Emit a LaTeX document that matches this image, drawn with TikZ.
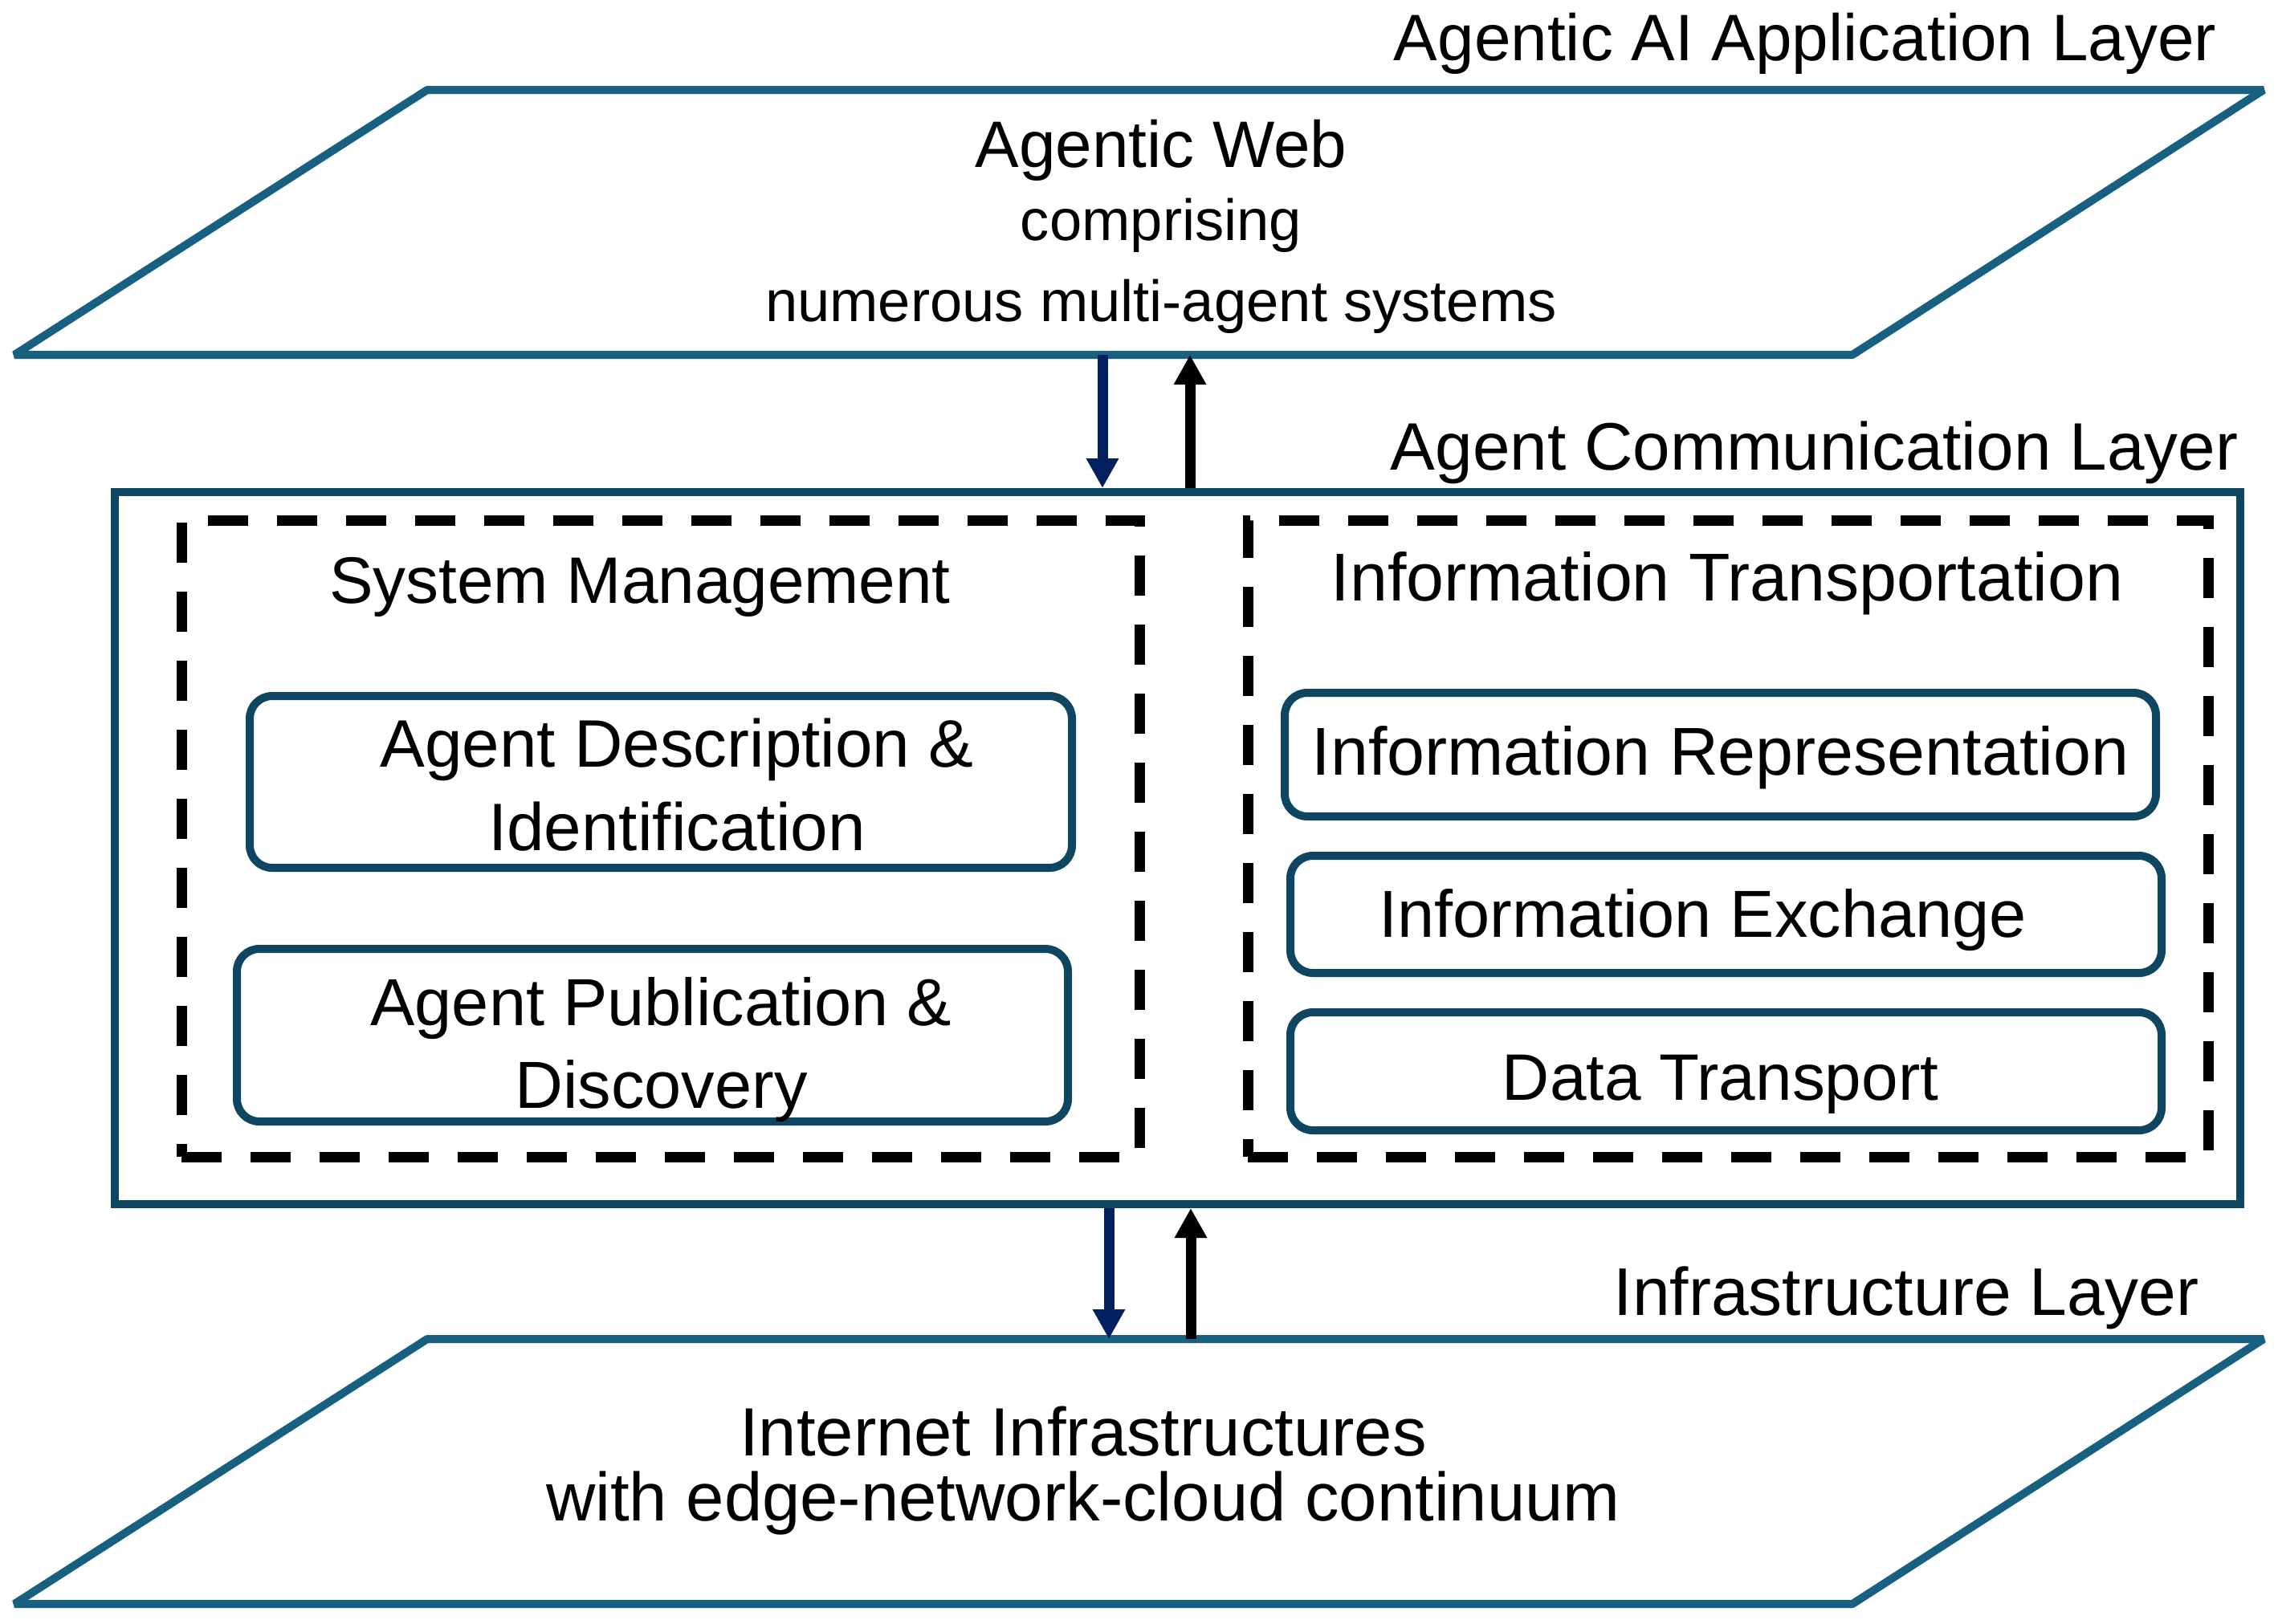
\documentclass[tikz,border=0pt]{standalone}
\usepackage{fontspec}
\setmainfont{Liberation Sans}
\usetikzlibrary{positioning,arrows.meta}
\definecolor{lyrblue}{RGB}{23,96,128}
\definecolor{boxblue}{RGB}{14,69,96}
\definecolor{navyar}{RGB}{0,32,96}
\newcommand{\fsz}[1]{\fontsize{#1}{29.5}\selectfont}
\tikzset{
  txt/.style  = {font=\fsz{23.3}, inner sep=0pt, align=center},
  layer/.style= {draw=lyrblue, line width=0.1cm, line join=bevel},
  comm/.style = {draw=boxblue, line width=0.1cm, inner sep=0pt},
  grp/.style  = {draw=black, line width=0.13cm, dash pattern=on 0.5cm off 0.36cm,
                 inner sep=0pt},
  fn/.style   = {draw=boxblue, line width=0.1cm, rounded corners=0.28cm, inner sep=0pt},
  dnar/.style = {draw=navyar, line width=0.13cm,
                 -{Triangle[width=0.38cm,length=0.37cm]}},
  upar/.style = {dnar, draw=black},
}

\begin{document}
\begin{tikzpicture}
\useasboundingbox (0,0) rectangle (28.37,-20.22);

% layers
\draw[layer] (0.18,-4.42) -- (5.32,-1.12) -- (28.19,-1.12) -- (23.07,-4.42) -- cycle;
\draw[layer] (0.18,-19.98) -- (5.32,-16.68) -- (28.19,-16.68) -- (23.07,-19.98) -- cycle;

\node[txt] (applbl) at (22.48,-0.54) {Agentic AI Application Layer};
\node[txt, font=\fsz{23.8}] (acllbl) at (22.595,-5.64) {Agent Communication Layer};
\node[txt, font=\fsz{23.9}] (inflbl) at (23.74,-16.17) {Infrastructure Layer};

\node[txt, font=\fontsize{20.6}{28.6}\selectfont] (web) at (14.46,-2.82)
     {{\fontsize{23.3}{28.6}\selectfont Agentic Web}\\[-0.09cm]comprising\\numerous multi-agent systems};
\node[txt, font=\fontsize{24.2}{23.3}\selectfont] (inet) at (13.49,-18.32)
     {Internet Infrastructures\\with edge-network-cloud continuum};

% communication layer
\node[comm, minimum width=26.47cm, minimum height=8.87cm] (acl) at (14.665,-10.565) {};

\node[grp, minimum width=11.93cm, minimum height=7.93cm] (sysmgmt) at (8.225,-10.445) {};
\node[grp, minimum width=11.96cm, minimum height=7.93cm] (infotr) at (21.52,-10.445) {};

\node[txt] (smtitle) at (7.97,-7.31) {System Management};
\node[txt, font=\fsz{24}] (ittitle) at (21.51,-7.27) {Information Transportation};

\node[fn, minimum width=10.24cm, minimum height=2.14cm] (desc) at (8.23,-9.74) {};
\node[fn, minimum width=10.35cm, minimum height=2.15cm] (pub) at (8.125,-12.895) {};
\node[fn, minimum width=10.85cm, minimum height=1.54cm] (rep) at (21.425,-9.40) {};
\node[fn, minimum width=10.85cm, minimum height=1.46cm] (exch) at (21.495,-11.39) {};
\node[fn, minimum width=10.85cm, minimum height=1.47cm] (dtr) at (21.495,-13.345) {};

\node[txt, font=\fsz{23.8}] (desctxt) at (8.43,-9.776) {Agent Description \&\\Identification};
\node[txt, font=\fsz{23.6}] (pubtxt) at (8.235,-13.075) {Agent Publication \&\\Discovery};
\node[txt, font=\fsz{24}] (reptxt) at (21.425,-9.436) {Information Representation};
\node[txt, font=\fsz{23.6}] (exchtxt) at (21.205,-11.46) {Information Exchange};
\node[txt] (dtrtxt) at (21.425,-13.505) {Data Transport};

% arrows between layers
\coordinate (a1) at (13.73,-4.42);
\coordinate (a2) at (14.82,-4.42);
\coordinate (b1) at (13.81,-16.68);
\coordinate (b2) at (14.83,-16.68);
\draw[dnar] (a1) -- (a1 |- acl.north);
\draw[upar] (a2 |- acl.north) -- (a2);
\draw[dnar] (b1 |- acl.south) -- (b1);
\draw[upar] (b2) -- (b2 |- acl.south);
\end{tikzpicture}
\end{document}
